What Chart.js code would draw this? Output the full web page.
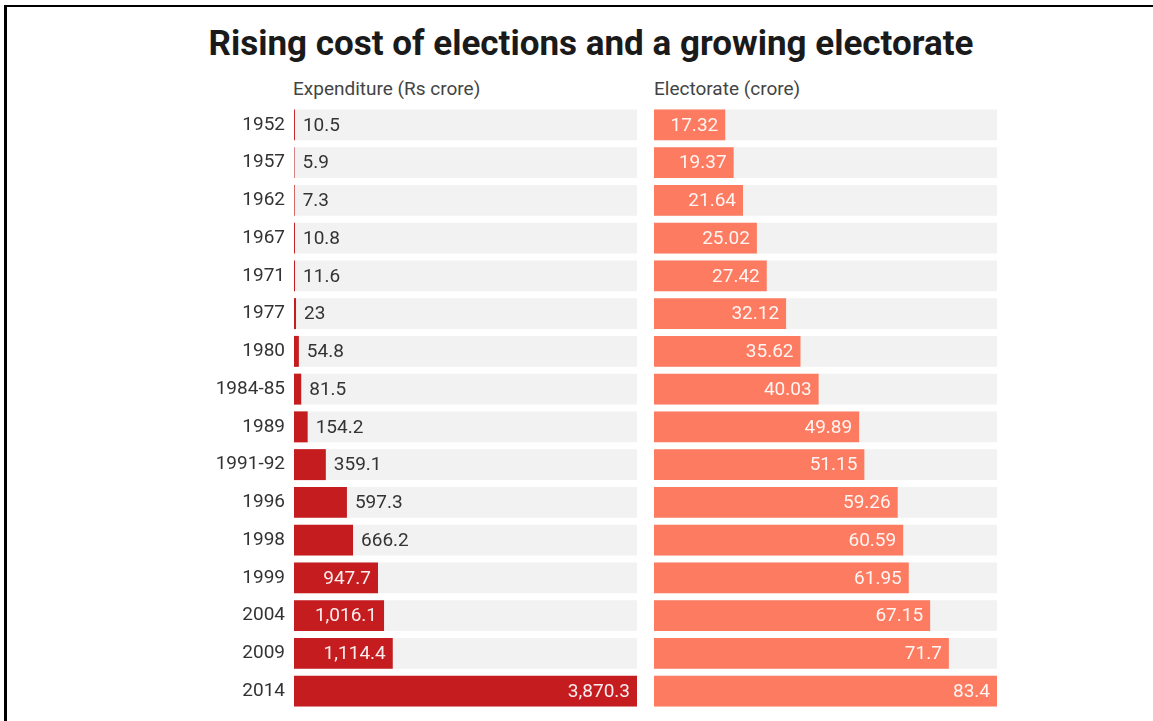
<!DOCTYPE html>
<html>
<head>
<meta charset="utf-8">
<script src="https://cdn.jsdelivr.net/npm/chart.js@4/dist/chart.umd.min.js"></script>
<style>
  body { margin: 0; background: #fff; font-family: Roboto, 'Noto Sans', sans-serif; }
  #frame { position: absolute; left: 4px; top: 5px; width: 1149px; height: 716px;
           border-left: 3px solid #000; border-top: 2px solid #000; }
  #title { position: absolute; left: 0; top: 23px; width: 1182px; text-align: center;
           font-size: 35px; font-weight: 700; color: #1a1a1a; }
  .sub { position: absolute; top: 77px; font-size: 19px; color: #444; }
  canvas { position: absolute; }
</style>
</head>
<body>
<div id="frame"></div>
<div id="title">Rising cost of elections and a growing electorate</div>
<div class="sub" style="left:293px">Expenditure (Rs crore)</div>
<div class="sub" style="left:654px">Electorate (crore)</div>
<canvas id="canvas-1" width="447" height="604" style="left:190px;top:106px"></canvas>
<canvas id="canvas-2" width="343" height="604" style="left:654px;top:106px"></canvas>
<script>
var years = ['1952','1957','1962','1967','1971','1977','1980','1984-85','1989','1991-92','1996','1998','1999','2004','2009','2014'];
var expenditure = [10.5, 5.9, 7.3, 10.8, 11.6, 23, 54.8, 81.5, 154.2, 359.1, 597.3, 666.2, 947.7, 1016.1, 1114.4, 3870.3];
var electorate = [17.32, 19.37, 21.64, 25.02, 27.42, 32.12, 35.62, 40.03, 49.89, 51.15, 59.26, 60.59, 61.95, 67.15, 71.7, 83.4];

Chart.defaults.font.family = 'Roboto, "Noto Sans", sans-serif';
Chart.defaults.animation = false;

// value labels: inside the bar (white) when it fits, else just right of it
var valueLabels = {
  id: 'valueLabels',
  afterDatasetsDraw: function(chart, args, opts){
    var ctx = chart.ctx;
    var meta = chart.getDatasetMeta(0);
    var data = chart.data.datasets[0].data;
    ctx.save();
    ctx.font = '19px Roboto, "Noto Sans", sans-serif';
    ctx.textBaseline = 'middle';
    meta.data.forEach(function(bar, i){
      var txt = data[i].toLocaleString('en-US', {maximumFractionDigits: 2});
      var w = bar.x - bar.base;
      if (opts.alwaysInside || w > 75) {
        ctx.fillStyle = 'rgba(255,255,255,0.92)';
        ctx.textAlign = 'right';
        ctx.fillText(txt, bar.x - 7, bar.y + 1);
      } else {
        ctx.fillStyle = '#333';
        ctx.textAlign = 'left';
        ctx.fillText(txt, bar.x + 8, bar.y + 1);
      }
    });
    ctx.restore();
  }
};

function makeChart(id, values, color, showYears, inside){
  var max = Math.max.apply(null, values);
  var ctx = document.getElementById(id);
  return new Chart(ctx, {
    type: 'bar',
    data: {
      labels: years,
      datasets: [
        {
          data: values,
          backgroundColor: color,
          grouped: false,
          categoryPercentage: 1,
          barPercentage: 0.82
        },
        {
          data: values.map(function(){ return max; }),
          backgroundColor: '#f2f2f2',
          grouped: false,
          categoryPercentage: 1,
          barPercentage: 0.82
        }
      ]
    },
    options: {
      responsive: false,
      indexAxis: 'y',
      layout: { padding: 0 },
      plugins: {
        legend: { display: false },
        tooltip: { enabled: false },
        valueLabels: { alwaysInside: inside }
      },
      scales: {
        x: { display: false, min: 0, max: max },
        y: {
          display: showYears,
          grid: { display: false, drawTicks: false },
          border: { display: false },
          ticks: { color: '#333', padding: 9, font: { size: 19 } },
          afterFit: function(scale){
            if (!showYears) return;
            scale.width = 104;
            scale.paddingTop = 0;
            scale.paddingBottom = 0;
          }
        }
      }
    },
    plugins: [valueLabels]
  });
}

makeChart('canvas-1', expenditure, '#c41c1f', true, false);
makeChart('canvas-2', electorate, '#fd7b60', false, true);
</script>
</body>
</html>
